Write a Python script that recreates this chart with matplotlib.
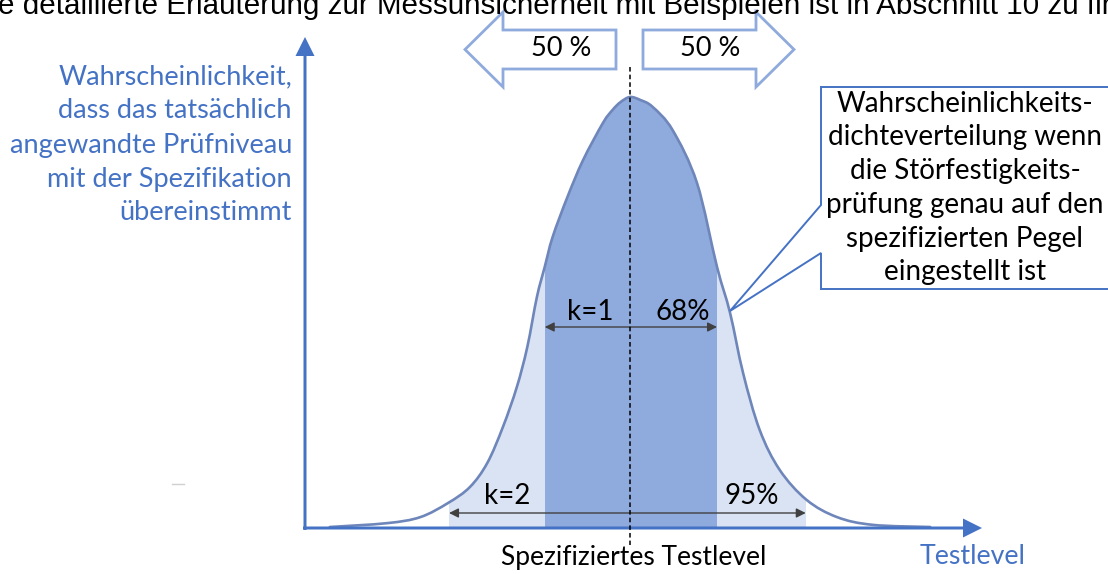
import matplotlib
matplotlib.use("Agg")
import matplotlib.pyplot as plt
from matplotlib.patches import Polygon, Rectangle, FancyArrow, PathPatch
from matplotlib.path import Path

# curve: x in units of sigma, y relative to peak height
curve_x = [-3.45, -2.79, -2.41, -2.09, -1.84, -1.64, -1.46, -1.30, -1.18, -1.07,
           -0.98, -0.89, -0.72, -0.54, -0.31, -0.20, -0.11, 0.0, 0.12, 0.26,
           0.49, 0.77, 1.00, 1.15, 1.30, 1.49, 1.72, 2.03, 2.38, 2.79, 3.45]
curve_y = [0.0, 0.009, 0.023, 0.056, 0.093, 0.149, 0.233, 0.326, 0.419, 0.535,
           0.605, 0.674, 0.767, 0.853, 0.940, 0.970, 0.988, 1.0, 0.993, 0.977,
           0.923, 0.800, 0.605, 0.498, 0.358, 0.226, 0.133, 0.063, 0.023, 0.005, 0.0]

k1_band = (-0.98, 1.0)
k2_band = (-2.08, 2.02)
k1_labels = ["k=1", "68%"]
k2_labels = ["k=2", "95%"]
arrow_labels = ["50 %", "50 %"]

ylabel_lines = ["Wahrscheinlichkeit,", "dass das tatsächlich", "angewandte Prüfniveau",
                "mit der Spezifikation", "übereinstimmt"]
callout_lines = ["Wahrscheinlichkeits-", "dichteverteilung wenn", "die Störfestigkeits-",
                 "prüfung genau auf den", "spezifizierten Pegel", "eingestellt ist"]
top_text = "e detaillierte Erläuterung zur Messunsicherheit mit Beispielen ist in Abschnitt 10 zu finden."

BLUE = "#4472C4"
DARK = "#8FAADC"
LIGHT = "#DAE3F3"
CURVE = "#6E86BA"
FONT = "Lato"


def smooth_path(xs, ys, close=False):
    # catmull-rom through the read points, written as cubic bezier segments
    pts = list(zip(xs, ys))
    verts = [pts[0]]
    codes = [Path.MOVETO]
    n = len(pts)
    for i in range(n - 1):
        p0 = pts[max(i - 1, 0)]
        p1 = pts[i]
        p2 = pts[i + 1]
        p3 = pts[min(i + 2, n - 1)]
        c1 = (p1[0] + (p2[0] - p0[0]) / 6, p1[1] + (p2[1] - p0[1]) / 6)
        c2 = (p2[0] - (p3[0] - p1[0]) / 6, p2[1] - (p3[1] - p1[1]) / 6)
        verts += [c1, c2, p2]
        codes += [Path.CURVE4] * 3
    if close:
        verts.append(pts[0])
        codes.append(Path.CLOSEPOLY)
    return Path(verts, codes)


W, H = 1108, 574
fig = plt.figure(figsize=(W / 100, H / 100), dpi=100)

# curve axes: centre of distribution at px 630, sigma = 87 px, peak 430 px above baseline 527
ax = fig.add_axes([0, 0, 1, 1])
ax.set_xlim(-630 / 87, (W - 630) / 87)
ax.set_ylim((527 - H) / 430, 527 / 430)
ax.axis("off")

shape = PathPatch(smooth_path(curve_x, curve_y, close=True), facecolor="none", edgecolor="none")
ax.add_patch(shape)
for (lo, hi), col in [(k2_band, LIGHT), (k1_band, DARK)]:
    r = Rectangle((lo, 0), hi - lo, 1.2, facecolor=col, edgecolor="none")
    ax.add_patch(r)
    r.set_clip_path(shape)
ax.add_patch(PathPatch(smooth_path(curve_x, curve_y), fill=False, edgecolor=CURVE,
                       lw=1.9, capstyle="round", zorder=3))

# overlay in pixel coordinates for the annotations
ov = fig.add_axes([0, 0, 1, 1])
ov.set_xlim(0, W)
ov.set_ylim(H, 0)
ov.axis("off")

# axes arrows
ov.add_patch(FancyArrow(305, 530, 0, -493, width=3, head_width=19, head_length=19,
                        length_includes_head=True, color=BLUE, lw=0))
ov.add_patch(FancyArrow(303, 528, 679, 0, width=3, head_width=19, head_length=19,
                        length_includes_head=True, color=BLUE, lw=0))

# dashed centre line
ov.plot([630, 630], [67, 545], color="black", lw=1.1, dashes=(3, 2), zorder=4)

# double arrows for k=1 / k=2 (drawn in curve coordinates)
for (lo, hi), yv in [(k1_band, (527 - 327) / 430), (k2_band, (527 - 513) / 430)]:
    ax.annotate("", xy=(hi, yv), xytext=(lo, yv),
                arrowprops=dict(arrowstyle="<|-|>", color="#404040", lw=1.0,
                                mutation_scale=14, shrinkA=0, shrinkB=0), zorder=5)
for txt, x, y in [(k1_labels[0], 590, 312), (k1_labels[1], 683, 312),
                  (k2_labels[0], 507, 496), (k2_labels[1], 752, 496)]:
    ov.text(x, y, txt, ha="center", va="center", fontsize=20, family=FONT, color="black")

# block arrows at the top
left_arrow = [(465, 49.5), (503, 12), (503, 30), (616, 30), (616, 69), (503, 69), (503, 87)]
right_arrow = [(794, 49.5), (756, 12), (756, 30), (643, 30), (643, 69), (756, 69), (756, 87)]
for pts in (left_arrow, right_arrow):
    ov.add_patch(Polygon(pts, closed=True, facecolor="white", edgecolor=DARK, lw=2))
ov.text(561, 48, arrow_labels[0], ha="center", va="center", fontsize=19.5, family=FONT)
ov.text(710, 48, arrow_labels[1], ha="center", va="center", fontsize=19.5, family=FONT)

# callout box
callout = [(821, 87), (1115, 87), (1115, 289), (821, 289), (821, 253), (730, 311), (821, 205)]
ov.add_patch(Polygon(callout, closed=True, facecolor="white", edgecolor=BLUE, lw=1.4, zorder=6))
ov.text(965, 188, "\n".join(callout_lines), ha="center", va="center", fontsize=20,
        family=FONT, linespacing=1.37, zorder=7)

# y-axis description
ov.text(292, 145, "\n".join(ylabel_lines), ha="right", va="center", fontsize=19.5,
        family=FONT, color=BLUE, linespacing=1.45)

# x-axis labels
ov.text(634, 557, "Spezifiziertes Testlevel", ha="center", va="center", fontsize=19, family=FONT)
ov.text(973, 556, "Testlevel", ha="center", va="center", fontsize=19.3, family=FONT, color=BLUE)

# clipped text line from the page above
ov.text(-2, 14, top_text, ha="left", va="baseline", fontsize=21.3, family="Liberation Sans")

# small stray mark
ov.plot([172, 184], [484, 484], color="#d0d0d0", lw=1)

fig.savefig("out.png", dpi=100)
